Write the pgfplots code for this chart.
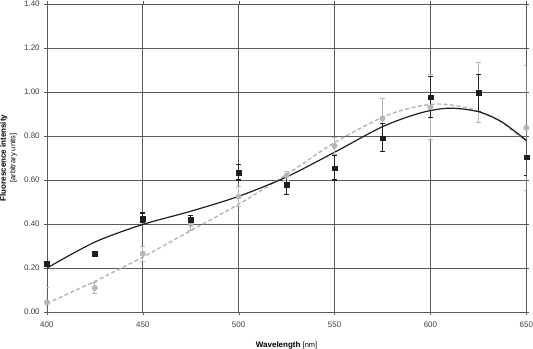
\documentclass[border=0pt]{standalone}
\usepackage{pgfplots}
\pgfplotsset{compat=1.18}
\usepackage{fontspec}
\setmainfont{Liberation Sans}
\definecolor{darkser}{HTML}{1E1E1E}
\definecolor{lightser}{HTML}{B4B4B4}
\definecolor{gridc}{HTML}{5A5A5A}
\definecolor{tickc}{HTML}{3C3C3C}
\begin{document}
\begin{tikzpicture}
\begin{axis}[
    scale only axis,
    width=479bp, height=308bp,
    xmin=400, xmax=650,
    ymin=0, ymax=1.4,
    xtick={400,450,...,650},
    ytick={0,0.2,...,1.4},
    grid=major,
    grid style={gridc, line width=0.6pt},
    axis line style={gridc, line width=0.6pt},
    tick style={gridc},
    major tick length=3bp,
    tick align=outside,
    /pgf/number format/assume math mode=true,
    tick label style={font=\fontsize{8}{10}\selectfont, text=tickc},
    yticklabel style={inner ysep=1bp, inner xsep=4bp, /pgf/number format/.cd, fixed, fixed zerofill, precision=2},
    xticklabel style={inner xsep=0pt, yshift=-3bp, /pgf/number format/.cd, fixed, 1000 sep={}},
    xlabel={\textbf{Wavelength} {\fontsize{7.5}{9}\selectfont[nm]}},
    ylabel={\textbf{Fluorescence intensity}\\{\fontsize{7.5}{9}\selectfont[arbitrary units]}},
    label style={font=\fontsize{8}{9.5}\selectfont},
    ylabel style={align=center, inner sep=0pt, at={(axis description cs:0,0.5)}, anchor=north, yshift=47bp},
    xlabel style={inner sep=0pt, at={(axis description cs:0.5,0)}, anchor=base, yshift=-35bp},
    clip=true,
]
% trend curves
\addplot[lightser, line width=1.4pt, dash pattern=on 4pt off 2.5pt, smooth, no marks] coordinates {
    (400,0.040) (425,0.140) (450,0.250) (475,0.370) (500,0.490) (525,0.625)
    (550,0.770) (575,0.885) (590,0.928) (603,0.945) (615,0.935) (625,0.912)
    (637,0.862) (650,0.775)
};
\addplot[darkser, line width=1.2pt, smooth, no marks] coordinates {
    (400,0.200) (425,0.318) (450,0.398) (475,0.458) (500,0.526) (525,0.614)
    (550,0.726) (575,0.842) (595,0.905) (610,0.926) (625,0.910) (637,0.865)
    (650,0.780)
};
% light series with error bars
\addplot[only marks, mark=*, mark size=2.7bp, color=lightser,
    error bars/.cd, y dir=both, y explicit,
    error bar style={lightser, line width=1pt},
    error mark options={lightser, rotate=90, mark size=2.5bp, line width=0.9pt}]
coordinates {
    (400,0.044) += (0,0.066) -= (0,0.066)
    (425,0.110) += (0,0.027) -= (0,0.023)
    (450,0.266) += (0,0.034) -= (0,0.036)
    (475,0.400) += (0,0.022) -= (0,0.030)
    (500,0.525) += (0,0.048) -= (0,0.045)
    (525,0.620) += (0,0.020) -= (0,0.020)
    (550,0.755) += (0,0.040) -= (0,0.040)
    (575,0.880) += (0,0.090) -= (0,0.090)
    (600,0.930) += (0,0.150) -= (0,0.146)
    (625,0.998) += (0,0.136) -= (0,0.136)
    (650,0.837) += (0,0.283) -= (0,0.284)
};
% dark series with error bars
\addplot[only marks, mark=square*, mark size=2.4bp, color=darkser,
    error bars/.cd, y dir=both, y explicit,
    error bar style={darkser, line width=1.4pt},
    error mark options={darkser, rotate=90, mark size=2.5bp, line width=1.1pt}]
coordinates {
    (400,0.220) += (0,0) -= (0,0)
    (425,0.266) += (0,0) -= (0,0)
    (450,0.425) += (0,0.025) -= (0,0.020)
    (475,0.420) += (0,0.020) -= (0,0.020)
    (500,0.635) += (0,0.035) -= (0,0.035)
    (525,0.578) += (0,0.040) -= (0,0.045)
    (550,0.654) += (0,0.056) -= (0,0.054)
    (575,0.790) += (0,0.065) -= (0,0.060)
    (600,0.976) += (0,0.094) -= (0,0.091)
    (625,0.998) += (0,0.083) -= (0,0.086)
    (650,0.704) += (0,0.081) -= (0,0.084)
};
\end{axis}
\end{tikzpicture}
\end{document}
